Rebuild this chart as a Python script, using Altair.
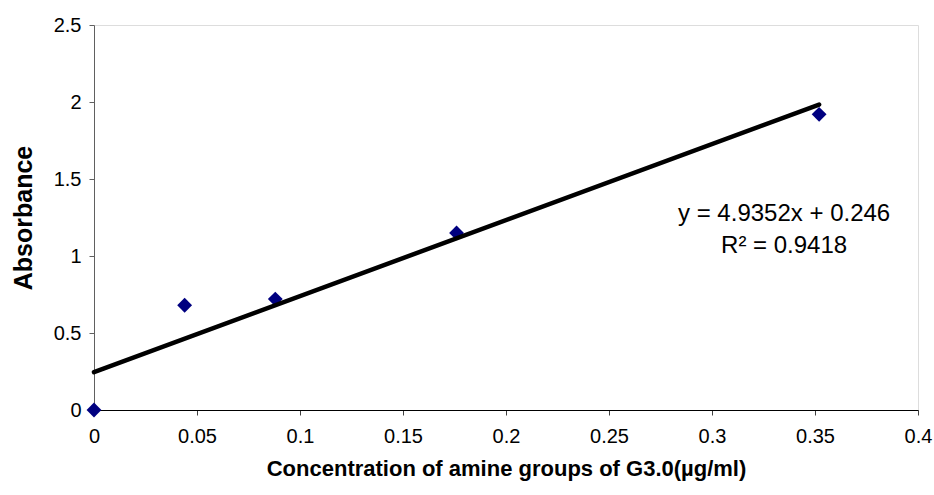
import altair as alt
import pandas as pd

# Data
conc = [0.0, 0.044, 0.088, 0.176, 0.352]
absorb = [0.0, 0.68, 0.72, 1.15, 1.92]

slope = 4.9352
intercept = 0.246
r2 = 0.9418

x_ticks = [0, 0.05, 0.1, 0.15, 0.2, 0.25, 0.3, 0.35, 0.4]
y_ticks = [0, 0.5, 1, 1.5, 2, 2.5]

eq_text = "y = 4.9352x + 0.246"
r2_text = "R\u00b2 = 0.9418"
label_x = 0.335
label_y = 1.27

FONT = "Liberation Sans"

pts = pd.DataFrame({"x": conc, "y": absorb})
x_line = [min(conc), max(conc)]
trend = pd.DataFrame({"x": x_line, "y": [slope * v + intercept for v in x_line]})
labels = pd.DataFrame({"x": [label_x, label_x], "y": [label_y, label_y],
                       "text": [eq_text, r2_text], "row": [0, 1]})

xscale = alt.Scale(domain=[0, 0.4], nice=False, zero=False)
yscale = alt.Scale(domain=[0, 2.5], nice=False, zero=False)

xaxis = alt.Axis(
    values=x_ticks, format="~g", grid=False, title="Concentration of amine groups of G3.0(µg/ml)",
    titleFont=FONT, titleFontSize=22, titleFontWeight="bold", titleColor="black", titlePadding=12,
    labelFont=FONT, labelFontSize=20, labelColor="black", labelPadding=11,
    tickSize=5, tickColor="#404040", domainColor="black", labelFlush=False,
)
yaxis = alt.Axis(
    values=y_ticks, format="~g", grid=False, title="Absorbance",
    titleFont=FONT, titleFontSize=25, titleFontWeight="bold", titleColor="black", titlePadding=17,
    labelFont=FONT, labelFontSize=20, labelColor="black", labelPadding=8,
    tickSize=5, tickColor="#606060", domainColor="#606060",
)

points = alt.Chart(pts).mark_point(
    shape="diamond", filled=True, color="#000080", size=220, opacity=1
).encode(
    x=alt.X("x:Q", scale=xscale, axis=xaxis),
    y=alt.Y("y:Q", scale=yscale, axis=yaxis),
)

line = alt.Chart(trend).mark_line(color="black", strokeWidth=4.5, strokeCap="round").encode(
    x=alt.X("x:Q", scale=xscale),
    y=alt.Y("y:Q", scale=yscale),
)

t1 = alt.Chart(labels).transform_filter("datum.row == 0").mark_text(
    font=FONT, fontSize=24, fontWeight="normal", fill="black",
    align="center", baseline="middle"
).encode(x=alt.X("x:Q", scale=xscale), y=alt.Y("y:Q", scale=yscale), text="text:N")

t2 = alt.Chart(labels).transform_filter("datum.row == 1").mark_text(
    font=FONT, fontSize=24, fontWeight="normal", fill="black",
    align="center", baseline="middle", dy=32
).encode(x=alt.X("x:Q", scale=xscale), y=alt.Y("y:Q", scale=yscale), text="text:N")

chart = alt.layer(points, line, t1, t2).properties(
    width=824, height=385,
    autosize=alt.AutoSizeParams(type="none"),
    padding={"left": 94, "top": 25, "right": 16, "bottom": 85},
).configure_view(stroke=None).configure(background="white")

chart.save("out.html", embed_options={"renderer": "svg", "actions": False})
